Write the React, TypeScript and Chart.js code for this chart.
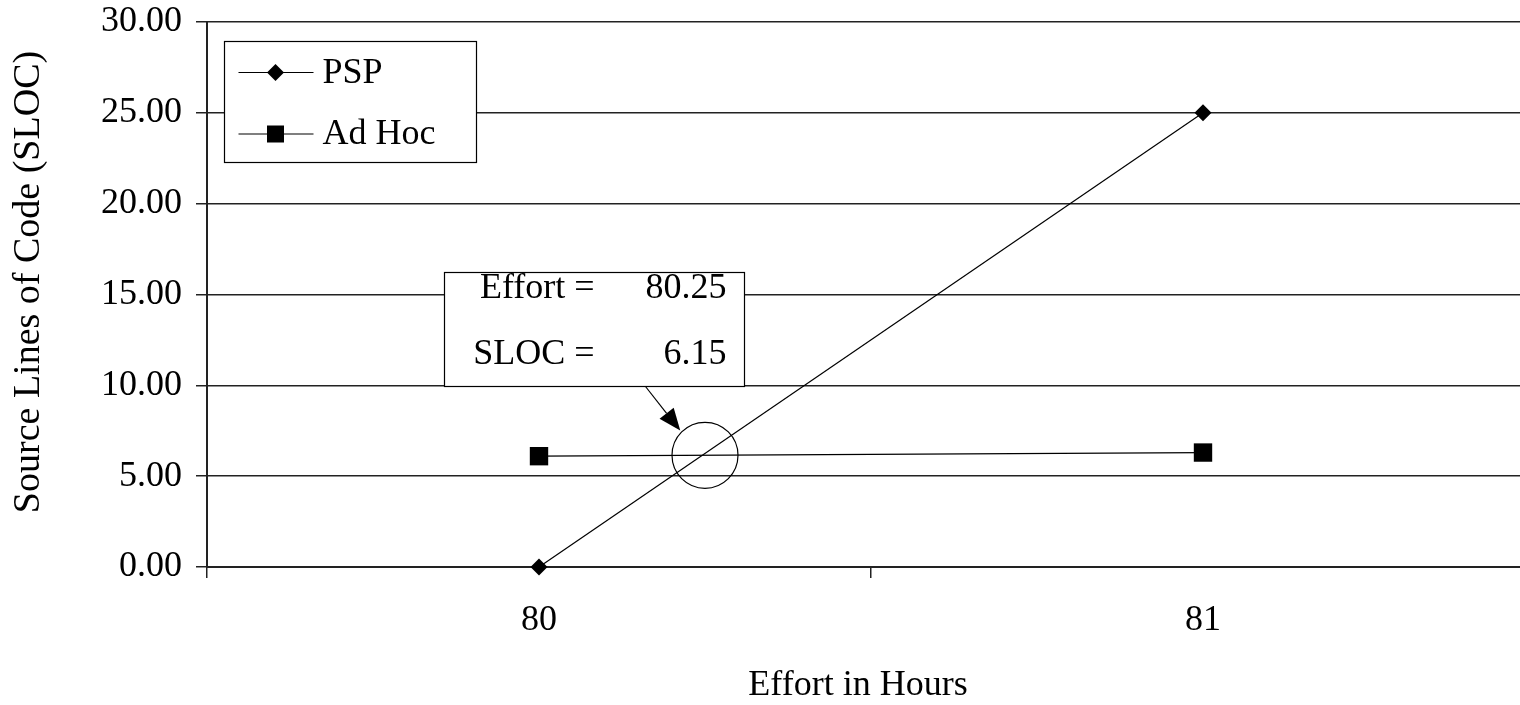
import React, { useEffect, useRef } from 'react';
import { Chart, registerables } from 'chart.js';

Chart.register(...registerables);

// Effort categories (hours) and source lines of code per approach
const effortLabels = ['80', '81'];
const effortValues = [80, 81];
const pspSloc = [0, 25];
const adHocSloc = [6.1, 6.3];
const slocTicks = [0, 5, 10, 15, 20, 25, 30];

// Break-even point where the two lines cross
const intersectEffort = 80.25;
const intersectSloc = 6.15;

const xTitle = 'Effort in Hours';
const yTitle = 'Source Lines of Code (SLOC)';

const FONT_FAMILY = "'Liberation Serif', 'Times New Roman', Times, serif";
const font = { family: FONT_FAMILY, size: 36, lineHeight: 1 };

const W = 1548;
const H = 705;

function drawDiamond(ctx: CanvasRenderingContext2D, x: number, y: number, r: number) {
  ctx.beginPath();
  ctx.moveTo(x, y - r);
  ctx.lineTo(x + r, y);
  ctx.lineTo(x, y + r);
  ctx.lineTo(x - r, y);
  ctx.closePath();
  ctx.fill();
}

function drawSquare(ctx: CanvasRenderingContext2D, x: number, y: number, half: number) {
  ctx.fillRect(x - half, y - half, half * 2, half * 2);
}

const overlayPlugin = {
  id: 'overlay',
  afterDatasetsDraw(chart: any) {
    const { ctx, scales } = chart;
    const xs = scales.x;
    const ys = scales.y;
    const p0 = xs.getPixelForValue(0);
    const p1 = xs.getPixelForValue(1);
    const cx = p0 + (intersectEffort - effortValues[0]) * (p1 - p0) / (effortValues[1] - effortValues[0]);
    const cy = ys.getPixelForValue(intersectSloc);
    const r = 33;

    ctx.save();
    ctx.strokeStyle = '#000';
    ctx.fillStyle = '#000';
    ctx.lineWidth = 1.2;

    // ring around the crossing point
    ctx.beginPath();
    ctx.arc(cx, cy, r, 0, Math.PI * 2);
    ctx.stroke();

    // callout box
    const bw = 300;
    const bh = 114;
    const bx = Math.round(cx - 261) + 0.5;
    const by = Math.round(cy - 183) + 0.5;
    ctx.fillStyle = '#fff';
    ctx.fillRect(bx, by, bw, bh);
    ctx.strokeRect(bx, by, bw, bh);

    ctx.fillStyle = '#000';
    ctx.font = `36px ${FONT_FAMILY}`;
    ctx.textBaseline = 'alphabetic';
    ctx.textAlign = 'right';
    ctx.fillText('Effort =', bx + 150, by + 25);
    ctx.fillText(intersectEffort.toFixed(2), bx + 282, by + 25);
    ctx.fillText('SLOC =', bx + 150, by + 91);
    ctx.fillText(intersectSloc.toFixed(2), bx + 282, by + 91);

    // arrow from the box to the ring
    const sx = bx + 201;
    const sy = by + bh;
    const tx = cx - (r + 2) * Math.SQRT1_2;
    const ty = cy - (r + 2) * Math.SQRT1_2;
    const ang = Math.atan2(ty - sy, tx - sx);
    const headLen = 22;
    const headHalf = 9;
    const baseX = tx - headLen * Math.cos(ang);
    const baseY = ty - headLen * Math.sin(ang);
    ctx.beginPath();
    ctx.moveTo(sx, sy);
    ctx.lineTo(baseX, baseY);
    ctx.stroke();
    ctx.beginPath();
    ctx.moveTo(tx, ty);
    ctx.lineTo(baseX + headHalf * Math.sin(ang), baseY - headHalf * Math.cos(ang));
    ctx.lineTo(baseX - headHalf * Math.sin(ang), baseY + headHalf * Math.cos(ang));
    ctx.closePath();
    ctx.fill();

    ctx.restore();
  },
  afterDraw(chart: any) {
    const { ctx, chartArea } = chart;

    // axis titles
    ctx.save();
    ctx.fillStyle = '#000';
    ctx.font = `36px ${FONT_FAMILY}`;
    ctx.textAlign = 'center';
    ctx.textBaseline = 'middle';
    ctx.fillText(xTitle, 858, 686);
    ctx.translate(29, 282);
    ctx.rotate(-Math.PI / 2);
    ctx.font = `38px ${FONT_FAMILY}`;
    ctx.fillText(yTitle, 0, 0);
    ctx.restore();

    // legend
    const lx = chartArea.left + 17.5;
    const ly = chartArea.top + 19.5;
    const lw = 252;
    const lh = 121;
    ctx.save();
    ctx.fillStyle = '#fff';
    ctx.fillRect(lx, ly, lw, lh);
    ctx.strokeStyle = '#000';
    ctx.lineWidth = 1.2;
    ctx.strokeRect(lx, ly, lw, lh);

    const rows = [
      { label: chart.data.datasets[0].label, y: ly + 31, kind: 'diamond' },
      { label: chart.data.datasets[1].label, y: ly + 92.5, kind: 'square' },
    ];
    ctx.font = `36px ${FONT_FAMILY}`;
    ctx.textBaseline = 'middle';
    ctx.textAlign = 'left';
    rows.forEach((row) => {
      ctx.beginPath();
      ctx.moveTo(lx + 14, row.y);
      ctx.lineTo(lx + 89, row.y);
      ctx.stroke();
      ctx.fillStyle = '#000';
      if (row.kind === 'diamond') drawDiamond(ctx, lx + 51, row.y, 8.5);
      else drawSquare(ctx, lx + 51, row.y, 8.5);
      ctx.fillText(row.label, lx + 98, row.y + 1);
    });
    ctx.restore();
  },
};

export default function App() {
  const canvasRef = useRef<HTMLCanvasElement | null>(null);

  useEffect(() => {
    const canvas = canvasRef.current;
    if (!canvas) return;
    const chart = new Chart(canvas, {
      type: 'line',
      data: {
        labels: effortLabels,
        datasets: [
          {
            label: 'PSP',
            data: pspSloc,
            borderColor: '#000',
            borderWidth: 1.2,
            backgroundColor: '#000',
            pointStyle: 'rectRot',
            pointRadius: 8.5,
            pointBorderWidth: 0,
            pointBackgroundColor: '#000',
            pointBorderColor: '#000',
            clip: false,
            tension: 0,
          },
          {
            label: 'Ad Hoc',
            data: adHocSloc,
            borderColor: '#000',
            borderWidth: 1.2,
            backgroundColor: '#000',
            pointStyle: 'rect',
            pointRadius: 13,
            pointBorderWidth: 0,
            pointBackgroundColor: '#000',
            pointBorderColor: '#000',
            clip: false,
            tension: 0,
          },
        ],
      },
      options: {
        animation: false,
        responsive: false,
        devicePixelRatio: 1,
        events: [],
        layout: { padding: { left: 0, top: 22, right: 5, bottom: 0 } },
        plugins: {
          legend: { display: false },
          tooltip: { enabled: false },
          title: { display: false },
        },
        scales: {
          x: {
            type: 'category',
            offset: true,
            grid: {
              offset: true,
              drawOnChartArea: false,
              drawTicks: true,
              tickLength: 11,
              color: '#222',
              lineWidth: 1.5,
            },
            border: { display: true, color: '#222', width: 2 },
            ticks: { font, color: '#000', padding: 25, maxRotation: 0 },
            title: { display: false },
            afterFit: (s: any) => {
              s.height = 138;
              s.paddingLeft = 0;
              s.paddingRight = 0;
            },
          },
          y: {
            min: 0,
            max: 30,
            afterBuildTicks: (s: any) => {
              s.ticks = slocTicks.map((v) => ({ value: v }));
            },
            grid: {
              color: '#222',
              lineWidth: 1.5,
              drawTicks: true,
              tickLength: 11,
            },
            border: { display: true, color: '#222', width: 2 },
            ticks: {
              font,
              color: '#000',
              padding: 14,
              callback: (v: any) => Number(v).toFixed(2),
            },
            title: { display: false },
            afterFit: (s: any) => {
              s.width = 207;
              s.paddingTop = 0;
              s.paddingBottom = 0;
            },
          },
        },
      },
      plugins: [overlayPlugin],
    });
    return () => chart.destroy();
  }, []);

  return (
    <div style={{ position: 'fixed', left: 0, top: 0, width: W, height: H, background: '#fff' }}>
      <canvas ref={canvasRef} width={W} height={H} style={{ display: 'block' }} />
    </div>
  );
}
